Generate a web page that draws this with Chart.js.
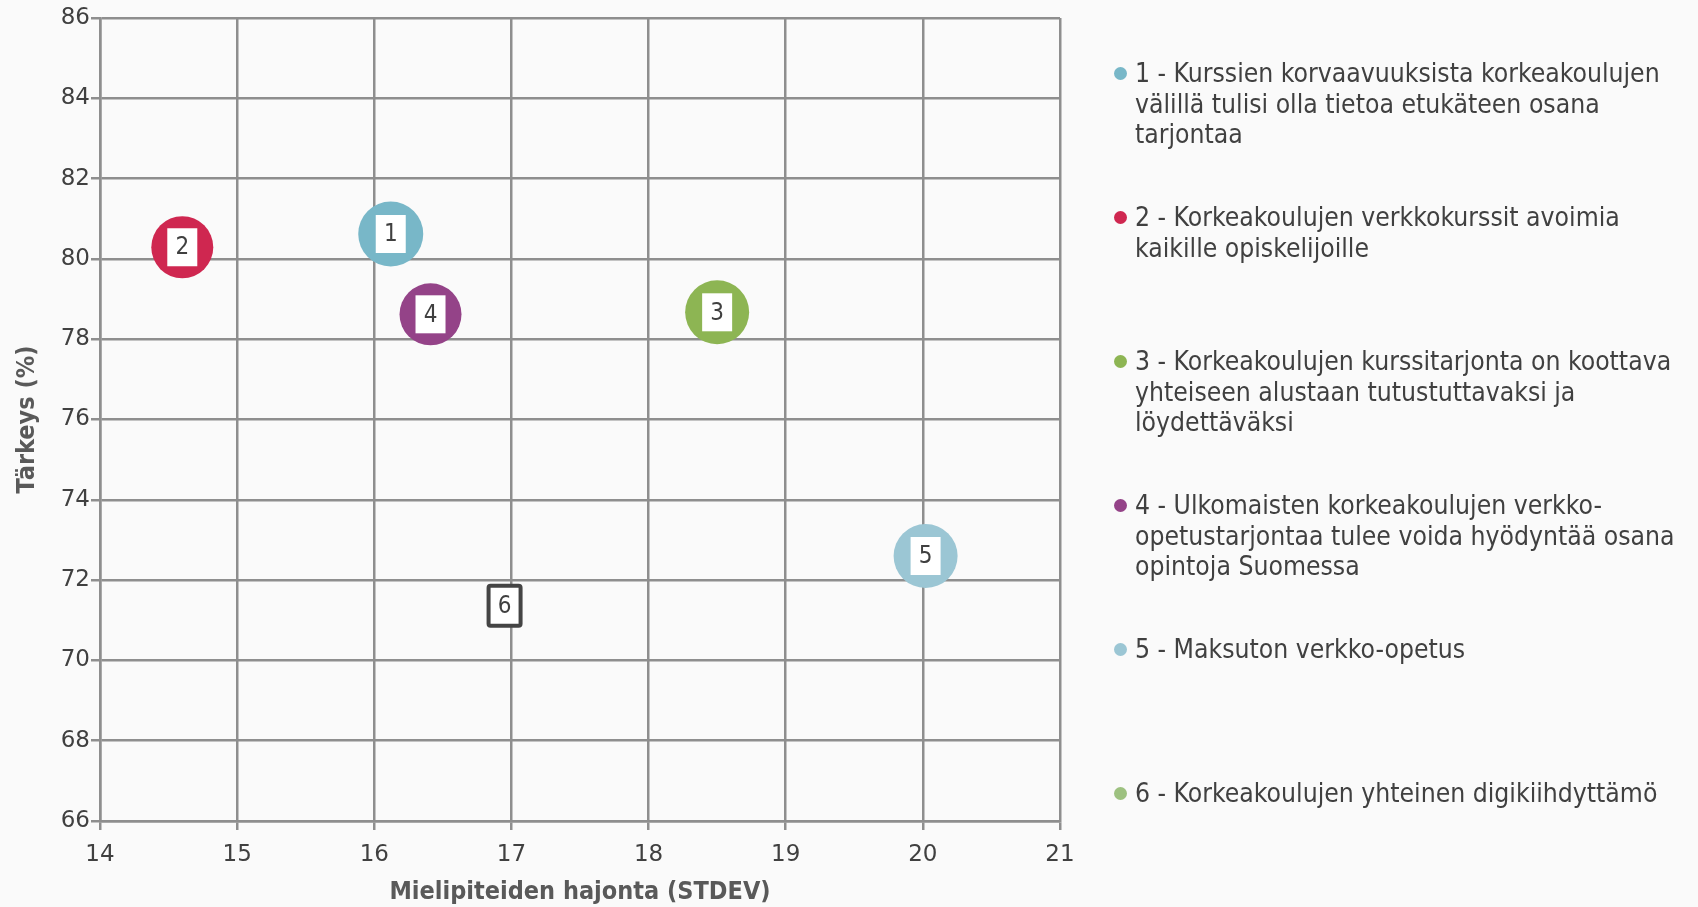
<!DOCTYPE html>
<html>
<head>
<meta charset="utf-8">
<script src="https://cdn.jsdelivr.net/npm/chart.js@4.4.1/dist/chart.umd.min.js"></script>
<style>
  html, body { margin: 0; padding: 0; background: #fafafa; }
  #wrap { position: relative; width: 1698px; height: 907px; }
  #c { position: absolute; left: 0; top: 0; }
  #legend { position: absolute; left: 1110px; top: 58px; width: 588px; font-family: "DejaVu Sans Condensed", "DejaVu Sans", sans-serif; font-size: 26.3px; color: #404040; }
  .item { position: relative; height: 144px; line-height: 30.5px; padding-left: 25px; white-space: nowrap; }
  .dot { position: absolute; left: 4px; top: 9px; width: 13px; height: 13px; border-radius: 50%; }
</style>
</head>
<body>
<div id="wrap">
  <canvas id="c" width="1698" height="907"></canvas>
  <div id="legend"></div>
</div>
<script>
// ---- data ----
const itemNumbers = ["1", "2", "3", "4", "5", "6"];
const itemLabelLines = [
  ["1 - Kurssien korvaavuuksista korkeakoulujen", "välillä tulisi olla tietoa etukäteen osana", "tarjontaa"],
  ["2 - Korkeakoulujen verkkokurssit avoimia", "kaikille opiskelijoille"],
  ["3 - Korkeakoulujen kurssitarjonta on koottava", "yhteiseen alustaan tutustuttavaksi ja", "löydettäväksi"],
  ["4 - Ulkomaisten korkeakoulujen verkko-", "opetustarjontaa tulee voida hyödyntää osana", "opintoja Suomessa"],
  ["5 - Maksuton verkko-opetus"],
  ["6 - Korkeakoulujen yhteinen digikiihdyttämö"]
];
const stdevValues = [16.12, 14.6, 18.5, 16.41, 20.02, 16.95];
const importanceValues = [80.62, 80.29, 78.67, 78.62, 72.6, 71.36];
const bubbleSizes = [32.5, 31, 32, 31, 32, 0];
const bubbleColors = ["#78b7c8", "#cf2750", "#8db553", "#944388", "#9bc6d4", "#9dc180"];
const xTicks = [14, 15, 16, 17, 18, 19, 20, 21];
const yTicks = [66, 68, 70, 72, 74, 76, 78, 80, 82, 84, 86];
const xTitle = "Mielipiteiden hajonta (STDEV)";
const yTitle = "Tärkeys (%)";

const FONT = '"DejaVu Sans Condensed", "DejaVu Sans", sans-serif';
const TICKFONT = '"DejaVu Sans", sans-serif';
const GRID = "#8e8e8e";

const datasets = itemNumbers.map((n, i) => ({
  label: itemLabelLines[i].join(" "),
  data: [{ x: stdevValues[i], y: importanceValues[i], r: bubbleSizes[i] }],
  backgroundColor: bubbleColors[i],
  borderWidth: 0,
  hoverBorderWidth: 0
}));

const bgPlugin = {
  id: "bg",
  beforeDraw(chart) {
    const ctx = chart.ctx;
    ctx.save();
    ctx.fillStyle = "#fafafa";
    ctx.fillRect(0, 0, chart.width, chart.height);
    ctx.restore();
  }
};

const labelPlugin = {
  id: "boxLabels",
  afterDatasetsDraw(chart) {
    const ctx = chart.ctx;
    ctx.save();
    chart.data.datasets.forEach((ds, i) => {
      const el = chart.getDatasetMeta(i).data[0];
      if (!el) return;
      const x = el.x, y = el.y;
      const w = 30, h = 38;
      ctx.fillStyle = "#ffffff";
      ctx.fillRect(x - w / 2, y - h / 2, w, h);
      if (bubbleSizes[i] === 0) {
        ctx.strokeStyle = "#444444";
        ctx.lineWidth = 4;
        ctx.beginPath();
        if (ctx.roundRect) ctx.roundRect(x - w / 2 - 1, y - h / 2 - 1, w + 2, h + 2, 2);
        else ctx.rect(x - w / 2 - 1, y - h / 2 - 1, w + 2, h + 2);
        ctx.stroke();
      }
      ctx.fillStyle = "#404040";
      ctx.font = "24px " + FONT;
      ctx.textAlign = "center";
      ctx.textBaseline = "middle";
      ctx.fillText(itemNumbers[i], x, y + 1);
    });
    ctx.restore();
  }
};

const chart = new Chart(document.getElementById("c"), {
  type: "bubble",
  data: { datasets },
  plugins: [bgPlugin, labelPlugin],
  options: {
    responsive: false,
    animation: false,
    clip: false,
    layout: { autoPadding: false, padding: { left: 12, right: 638, top: 18, bottom: 0 } },
    plugins: {
      legend: { display: false },
      tooltip: { enabled: false }
    },
    scales: {
      x: {
        type: "linear",
        min: 14, max: 21,
        afterBuildTicks(s) { s.ticks = xTicks.map(v => ({ value: v })); },
        afterFit(s) { s.height = 86; },
        grid: { color: GRID, lineWidth: 2.5, tickLength: 9, tickColor: GRID, tickWidth: 2.5 },
        border: { display: true, color: GRID, width: 2.5 },
        ticks: { color: "#404040", font: { family: TICKFONT, size: 23 }, padding: 11, maxRotation: 0 },
        title: { display: true, text: xTitle, color: "#595959", font: { family: FONT, size: 25, weight: "bold" }, padding: { top: 6, bottom: 0 } }
      },
      y: {
        type: "linear",
        min: 66, max: 86,
        afterBuildTicks(s) { s.ticks = yTicks.map(v => ({ value: v })); },
        afterFit(s) { s.width = 88; },
        grid: { color: GRID, lineWidth: 2.5, tickLength: 9, tickColor: GRID, tickWidth: 2.5 },
        border: { display: true, color: GRID, width: 2.5 },
        ticks: { color: "#404040", font: { family: TICKFONT, size: 23 }, padding: 1 },
        title: { display: true, text: yTitle, color: "#595959", font: { family: FONT, size: 25, weight: "bold" }, padding: { top: 0, bottom: 4 } }
      }
    }
  }
});

// HTML legend built from the chart's datasets
const legendEl = document.getElementById("legend");
chart.data.datasets.forEach((ds, i) => {
  const item = document.createElement("div");
  item.className = "item";
  const dot = document.createElement("span");
  dot.className = "dot";
  dot.style.background = ds.backgroundColor;
  item.appendChild(dot);
  itemLabelLines[i].forEach(line => {
    const d = document.createElement("div");
    d.textContent = line;
    item.appendChild(d);
  });
  legendEl.appendChild(item);
});
</script>
</body>
</html>
